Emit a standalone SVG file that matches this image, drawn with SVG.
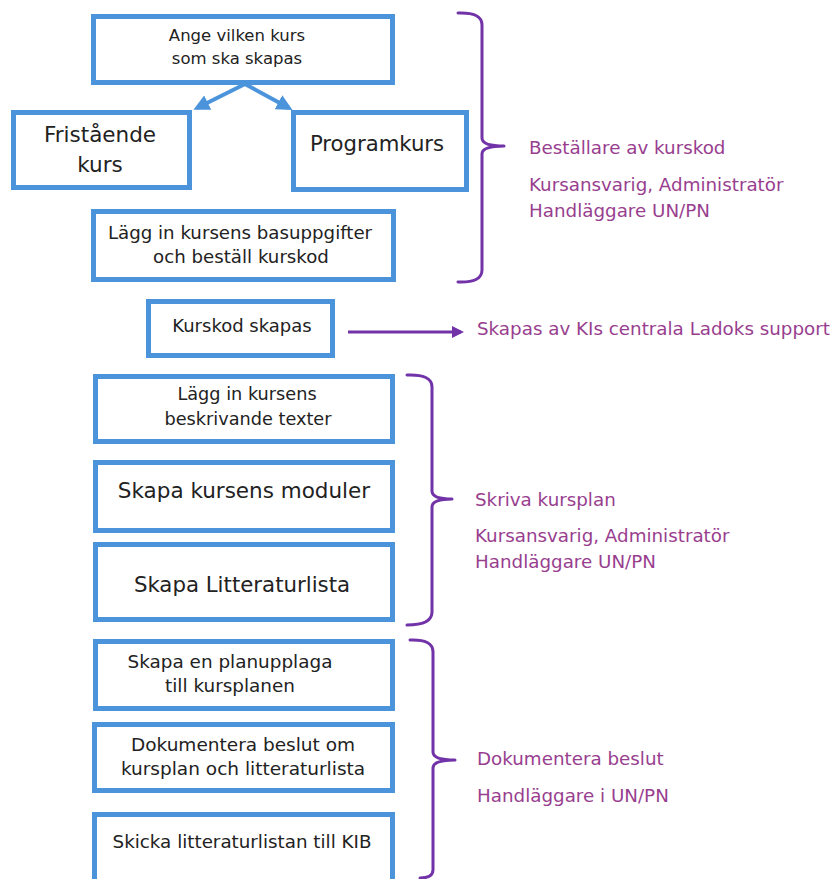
<svg xmlns="http://www.w3.org/2000/svg" width="837" height="879" viewBox="0 0 837 879">
<style>
.box{fill:#fff;stroke:#4B94DB;stroke-width:5}
.t{font-family:"DejaVu Sans",sans-serif;fill:#222;text-anchor:middle}
.p{font-family:"DejaVu Sans",sans-serif;fill:#983E8F;font-size:18.3px}
.brace{fill:none;stroke:#7233A8;stroke-width:3;stroke-linejoin:round;stroke-linecap:round}
</style>
<defs>
<marker id="ab" markerWidth="4" markerHeight="4" refX="3" refY="2" orient="auto" markerUnits="strokeWidth"><path d="M0,0 L4,2 L0,4 Z" fill="#4B94DB"/></marker>
<marker id="ap" markerWidth="4" markerHeight="4" refX="3" refY="2" orient="auto" markerUnits="strokeWidth"><path d="M0,0 L4,2 L0,4 Z" fill="#7233A8"/></marker>
</defs>
<rect width="837" height="879" fill="#fff"/>
<g id="connectors">
<path d="M245,84 L197,108" stroke="#4B94DB" stroke-width="4" fill="none" marker-end="url(#ab)"/>
<path d="M245,84 L289,108" stroke="#4B94DB" stroke-width="4" fill="none" marker-end="url(#ab)"/>
<path d="M348,332 L461,332" stroke="#7233A8" stroke-width="3" fill="none" marker-end="url(#ap)"/>
</g>
<g id="n-ange"><rect class="box" x="93.5" y="16.5" width="299" height="66"/>
<text class="t" font-size="16.5" x="237" y="41">Ange vilken kurs</text>
<text class="t" font-size="16.5" x="237" y="64">som ska skapas</text></g>
<g id="n-fristaende"><rect class="box" x="13.5" y="112.5" width="176" height="75"/>
<text class="t" font-size="21.5" x="100" y="142">Fristående</text>
<text class="t" font-size="21.5" x="100" y="172">kurs</text></g>
<g id="n-programkurs"><rect class="box" x="293.5" y="112.5" width="173" height="77"/>
<text class="t" font-size="21.2" x="377" y="151">Programkurs</text></g>
<g id="n-basuppgifter"><rect class="box" x="93.5" y="211.5" width="300" height="68"/>
<text class="t" font-size="18.2" x="240" y="239">Lägg in kursens basuppgifter</text>
<text class="t" font-size="18.2" x="241" y="263">och beställ kurskod</text></g>
<g id="n-kurskod"><rect class="box" x="148.5" y="301.5" width="184" height="54"/>
<text class="t" font-size="18" x="242" y="332">Kurskod skapas</text></g>
<g id="n-beskrivande"><rect class="box" x="95.5" y="376.5" width="297" height="65"/>
<text class="t" font-size="17.7" x="247" y="400">Lägg in kursens</text>
<text class="t" font-size="17.7" x="248" y="425">beskrivande texter</text></g>
<g id="n-moduler"><rect class="box" x="95.5" y="462.5" width="297" height="68"/>
<text class="t" font-size="21.5" x="244" y="498">Skapa kursens moduler</text></g>
<g id="n-litteratur"><rect class="box" x="95.5" y="544.5" width="297" height="75"/>
<text class="t" font-size="21.3" x="242" y="592">Skapa Litteraturlista</text></g>
<g id="n-planupplaga"><rect class="box" x="95.5" y="641.5" width="297" height="67"/>
<text class="t" font-size="18.4" x="230" y="668">Skapa en planupplaga</text>
<text class="t" font-size="18.4" x="230" y="692">till kursplanen</text></g>
<g id="n-dokumentera"><rect class="box" x="94.5" y="724.5" width="298" height="66"/>
<text class="t" font-size="18.5" x="243" y="751">Dokumentera beslut om</text>
<text class="t" font-size="18.5" x="243" y="775">kursplan och litteraturlista</text></g>
<g id="n-skicka"><rect class="box" x="94.5" y="814.5" width="298" height="80"/>
<text class="t" font-size="18.3" x="242" y="848">Skicka litteraturlistan till KIB</text></g>
<g id="brace1"><path class="brace" d="M458,13 Q482,12 482,25 V138 Q482,146 504,146 Q482,146 482,154 V270 Q482,283 458,282"/>
<text class="p" x="529" y="154">Beställare av kurskod</text>
<text class="p" x="529" y="191">Kursansvarig, Administratör</text>
<text class="p" x="529" y="217">Handläggare UN/PN</text></g>
<g id="support"><text class="p" x="477" y="335">Skapas av KIs centrala Ladoks support</text></g>
<g id="brace2"><path class="brace" d="M407,375 Q432,374 432,387 V491 Q432,499 452,499 Q432,499 432,507 V612 Q432,625 407,625"/>
<text class="p" x="475" y="506">Skriva kursplan</text>
<text class="p" x="475" y="542">Kursansvarig, Administratör</text>
<text class="p" x="475" y="568">Handläggare UN/PN</text></g>
<g id="brace3"><path class="brace" d="M410,640 Q433,639 433,652 V752 Q433,760 455,760 Q433,760 433,768 V870 Q433,878 420,878"/>
<text class="p" x="477" y="765">Dokumentera beslut</text>
<text class="p" x="477" y="802">Handläggare i UN/PN</text></g>
</svg>
